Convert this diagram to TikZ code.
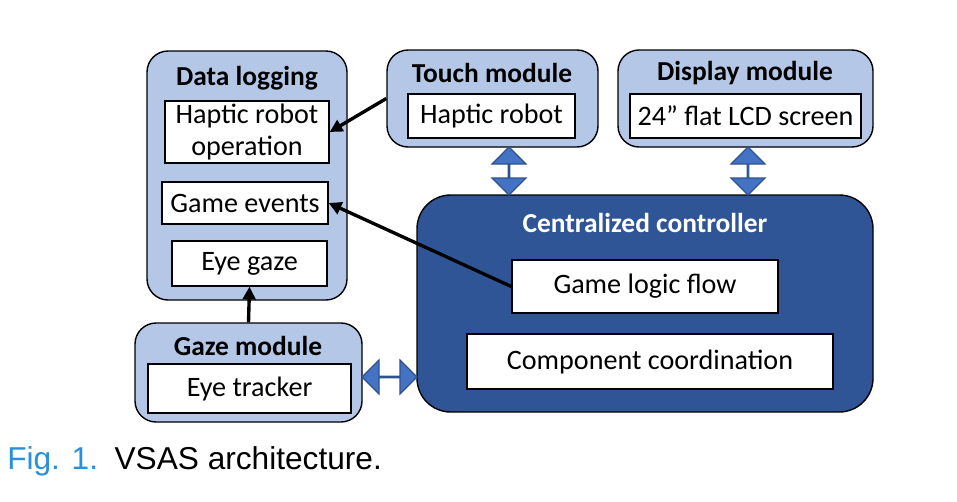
\documentclass[tikz,border=0pt]{standalone}
\usepackage{fontspec}
\setmainfont{Carlito}
\newfontfamily\capfont{Liberation Sans}
\usepackage{tikz}
\usetikzlibrary{positioning, arrows.meta, fit, shapes.arrows, calc}
\usepackage{xcolor}
\definecolor{modfill}{HTML}{B4C7E7}
\definecolor{ctrlfill}{HTML}{2F5597}
\definecolor{linkfill}{HTML}{4472C4}
\definecolor{linkline}{HTML}{2F528F}
\definecolor{capblue}{HTML}{2A8FDC}

\begin{document}
\begin{tikzpicture}[x=0.025cm, y=-0.025cm,
  module/.style={draw=black, line width=1pt, fill=modfill, rounded corners=15pt, inner sep=0pt},
  ctrlbox/.style={draw=black, line width=1pt, fill=ctrlfill, rounded corners=24pt, inner sep=0pt},
  item/.style={draw=black, line width=1pt, fill=white, inner sep=0pt, align=center, font=\fontsize{20}{23}\selectfont},
  title/.style={inner sep=0pt, font=\fontsize{19.5}{22}\selectfont\bfseries},
  link/.style={double arrow, draw=linkline, line width=0.8pt, fill=linkfill, inner sep=0pt,
    minimum width=0.85cm, double arrow head extend=0.285cm},
  flow/.style={-{Triangle[length=9pt,width=9pt]}, line width=2.4pt}]

\useasboundingbox (0,0) rectangle (957,501);

% module boxes
\node[module, fit={(147,51) (347,300)}] (datalog) {};
\node[module, fit={(387,50) (598,147)}] (touch) {};
\node[module, fit={(618,50) (873,147)}] (display) {};
\node[module, fit={(135,323) (362,422)}] (gaze) {};
\node[ctrlbox, fit={(417,195) (873,412)}] (ctrl) {};

% titles
\node[title] (dltitle) at (247,78) {Data logging};
\node[title] (touchtitle) at (492,73) {Touch module};
\node[title] (disptitle) at (745,73) {Display module};
\node[title] (gazetitle) at (248,346) {Gaze module};
\node[title, text=white] (ctrltitle) at (645,223) {Centralized controller};

% inner items
\node[item, minimum width=4.1cm, minimum height=1.55cm] (hrop) at (247,132) {Haptic robot\\operation};
\node[item, minimum width=4.15cm, minimum height=1.05cm] (events) at (245,203) {Game events};
\node[item, minimum width=3.875cm, minimum height=1.125cm] (eyegaze) at (249.5,263.5) {Eye gaze};
\node[item, minimum width=4.175cm, minimum height=1.1cm] (robot) at (491.5,116) {Haptic robot};
\node[item, minimum width=5.775cm, minimum height=1.1cm] (lcd) at (745.5,116) {24'' flat LCD screen};
\node[item, minimum width=5.075cm, minimum height=1.225cm] (tracker) at (249.5,388.5) {Eye tracker};
\node[item, minimum width=6.65cm, minimum height=1.325cm] (logic) at (645,286.5) {Game logic flow};
\node[item, minimum width=9.15cm, minimum height=1.375cm] (coord) at (650,361.5) {Component coordination};

% two-way links
\node[link, rotate=90, minimum height=1.2cm] (touchlink) at (509,171) {};
\node[link, rotate=90, minimum height=1.2cm] (displink) at (748,171) {};
\node[link, minimum height=1.375cm] (gazelink) at (389.5,377) {};

% data flow
\draw[flow] (touch.west) -- (hrop.east);
\draw[flow] (logic.west) -- (events.east);
\draw[flow] (gaze.north) -- (eyegaze.south);

\node[anchor=base west, inner sep=0pt, font=\capfont\fontsize{22.5}{26}\selectfont] (caption) at (7,469)
  {\textcolor{capblue}{Fig. 1.}\hspace{0.52em}VSAS architecture.};
\end{tikzpicture}
\end{document}
